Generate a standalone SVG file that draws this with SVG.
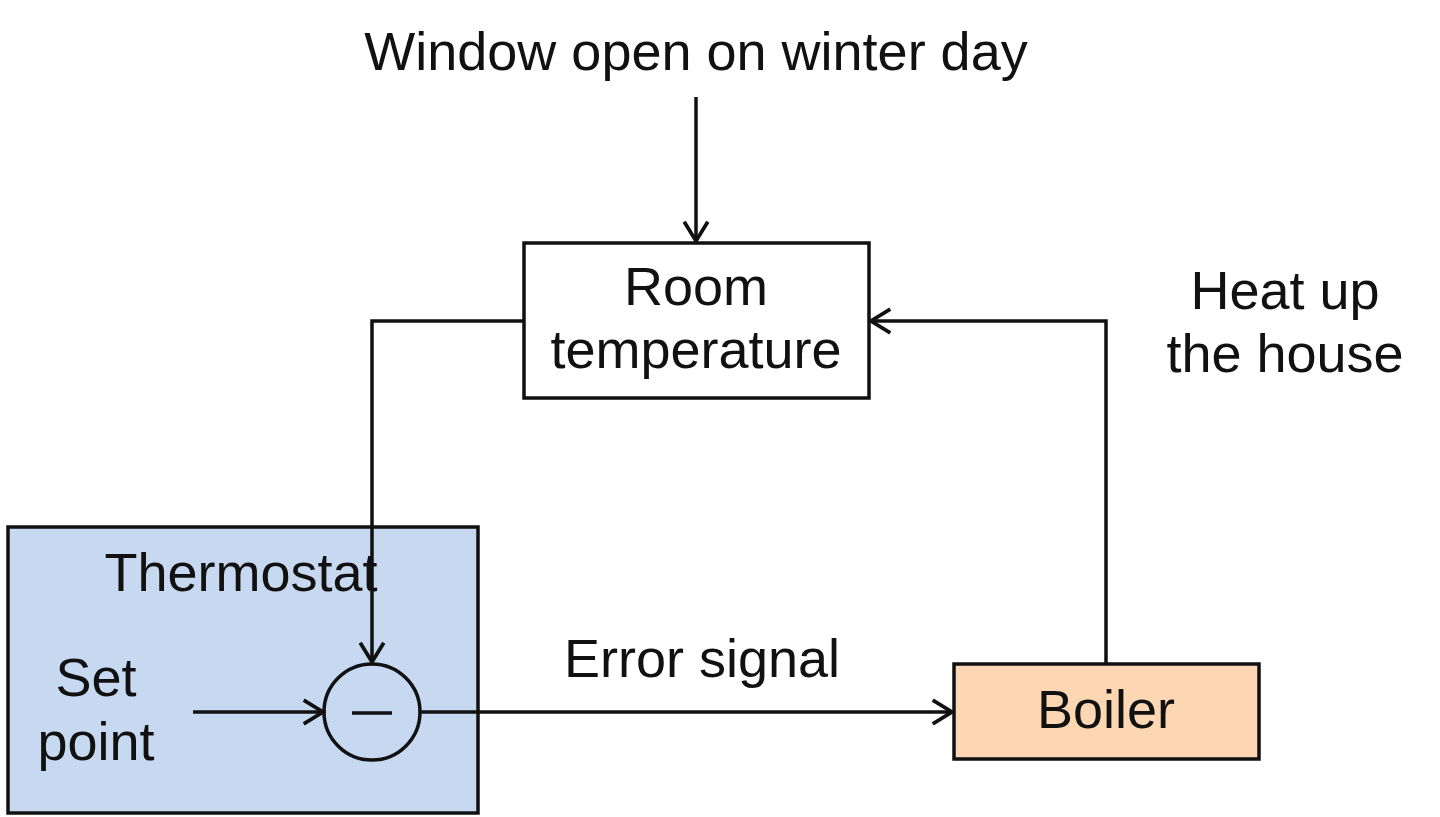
<svg xmlns="http://www.w3.org/2000/svg" width="1440" height="817" viewBox="0 0 1440 817">
<style>
.box{stroke:#111;stroke-width:3.5}
.lbl{font-family:"Liberation Sans",Arial,sans-serif;font-size:54px;fill:#111;text-anchor:middle}
.conn{fill:none;stroke:#111;stroke-width:3.5}
</style>
<defs>
<marker id="arr" markerUnits="userSpaceOnUse" markerWidth="30" markerHeight="30" viewBox="-22 -14 26 28" refX="0" refY="0" orient="auto">
<path d="M-18,-11 L0,0 L-18,11" fill="none" stroke="#111" stroke-width="3.5"/>
</marker>
</defs>
<rect width="1440" height="817" fill="#fff"/>
<g id="thermostat">
<rect class="box" x="8" y="527" width="470" height="286" fill="#C6D9F1"/>
<text class="lbl" x="241" y="591">Thermostat</text>
<text class="lbl" x="96" y="696">Set</text>
<text class="lbl" x="96" y="760">point</text>
</g>
<g id="comparator">
<circle class="box" cx="372" cy="712" r="48" fill="none"/>
<line x1="352" y1="713" x2="392" y2="713" stroke="#111" stroke-width="3.5"/>
</g>
<g id="room">
<rect class="box" x="524" y="243" width="345" height="155" fill="#fff"/>
<text class="lbl" x="696" y="305">Room</text>
<text class="lbl" x="696" y="368">temperature</text>
</g>
<g id="boiler">
<rect class="box" x="954" y="664" width="305" height="95" fill="#FDD6B3"/>
<text class="lbl" x="1106" y="728">Boiler</text>
</g>
<g id="window">
<text class="lbl" x="696" y="70">Window open on winter day</text>
</g>
<g id="heat">
<text class="lbl" x="1285" y="309">Heat up</text>
<text class="lbl" x="1285" y="372">the house</text>
</g>
<g id="error">
<text class="lbl" x="702" y="677">Error signal</text>
</g>
<g id="connectors">
<path class="conn" d="M696,97 L696,241" marker-end="url(#arr)"/>
<path class="conn" d="M524,321 L372,321 L372,662" marker-end="url(#arr)"/>
<path class="conn" d="M193,712 L323,712" marker-end="url(#arr)"/>
<path class="conn" d="M420,712 L952,712" marker-end="url(#arr)"/>
<path class="conn" d="M1106,664 L1106,321 L871,321" marker-end="url(#arr)"/>
</g>
</svg>
